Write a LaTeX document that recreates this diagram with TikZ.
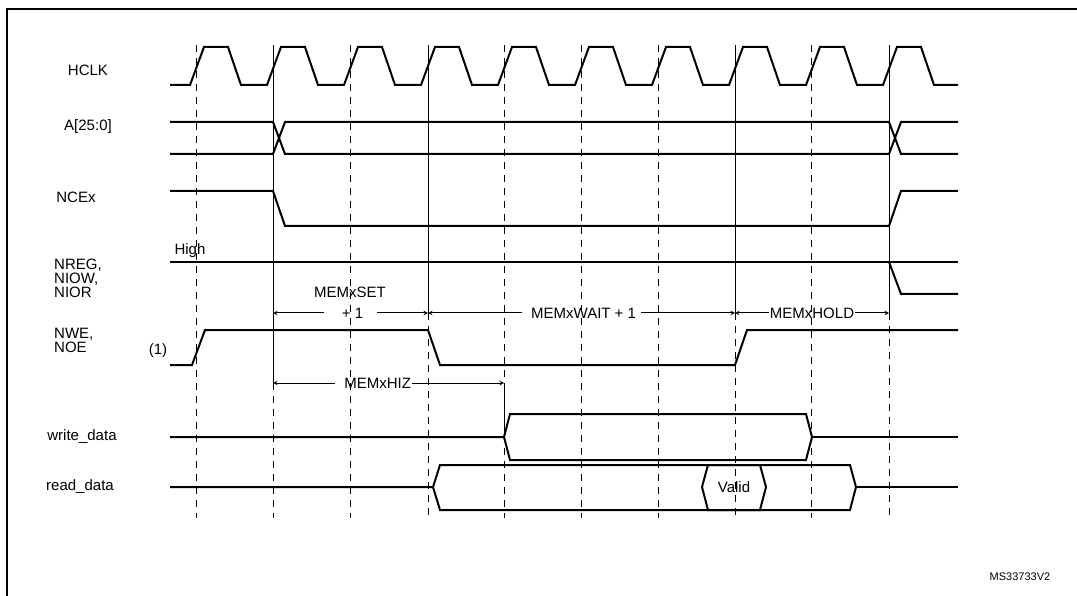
\documentclass[tikz,border=0pt]{standalone}
\usepackage{fontspec}
\setmainfont{Liberation Sans}
\usetikzlibrary{arrows,positioning}
\tikzset
{
    sig/.style      = {line width=2pt, line join=miter},
    tickline/.style = {line width=1pt, dash pattern=on 7pt off 6pt},
    edgeline/.style = {line width=1pt},
    dim/.style      = {line width=1pt, <->, >=stealth},
    signame/.style  = {font=\fontsize{15}{14}\selectfont, align=left, inner sep=0pt},
    dimtext/.style  = {font=\fontsize{15}{15}\selectfont, fill=white, inner sep=1pt}
}
\begin{document}
\begin{tikzpicture}[x=1pt,y=-1pt]
		\useasboundingbox (0,0) rectangle (1077,596);
		% frame
		\draw[line width=1.5pt] (1077,9) -- (7,9) -- (7,596);
		% signal names
		\node (hclk)  [signame] at (88,70)   {HCLK};
		\node (addr)  [signame] at (88,127)  {A[25:0]};
		\node (nce)   [signame] at (76,197)  {NCEx};
		\node (nreg)  [signame, anchor=west] at (54,278) {NREG,\\NIOW,\\NIOR};
		\node (nwe)   [signame, anchor=west] at (54,340) {NWE,\\NOE};
		\node (one)   [signame] at (158,351) {(1)};
		\node (wdata) [signame] at (82,437)  {write\_data};
		\node (rdata) [signame] at (80,487)  {read\_data};
		\node (high)  [signame] at (190,251) {High};
		\node (ref)   [font=\fontsize{11}{11}\selectfont, inner sep=0pt] at (1020,577) {MS33733V2};
		% clock
		\draw[sig] (170,85) foreach \v in {196,273,...,889} { -- (\v-6,85) -- (\v+8,47) -- (\v+32,47) -- (\v+45,85) } -- (958,85);
		% address bus
		\draw[sig] (170,122) -- (273,122) -- (285,154) -- (889,154) -- (901,122) -- (958,122);
		\draw[sig] (170,154) -- (273,154) -- (285,122) -- (889,122) -- (901,154) -- (958,154);
		% chip enable
		\draw[sig] (170,191) -- (273,191) -- (285,226) -- (889,226) -- (901,191) -- (958,191);
		% nreg
		\draw[sig] (170,262) -- (958,262);
		\draw[sig] (889,262) -- (901,294) -- (958,294);
		% nwe
		\draw[sig] (170,365) -- (192,365) -- (205,330) -- (428,330) -- (440,365) -- (735,365) -- (747,330) -- (958,330);
		% write data
		\draw[sig] (170,437) -- (504,437) -- (510,414) -- (806,414) -- (812,437) -- (806,460) -- (510,460) -- (504,437);
		\draw[sig] (812,437) -- (958,437);
		% read data
		\draw[sig] (170,487) -- (433,487) -- (440,465) -- (850,465) -- (856,487) -- (850,510) -- (440,510) -- (433,487);
		\draw[sig] (856,487) -- (958,487);
		\draw[sig] (702,487) -- (708,465) -- (760,465) -- (766,487) -- (760,510) -- (708,510) -- cycle;
		\node (valid) [signame] at (734,487) {Valid};
		% timing marks
		\coordinate (s0) at (273,313);
		\coordinate (s1) at (428,313);
		\coordinate (w1) at (735,313);
		\coordinate (h1) at (889,313);
		\coordinate (z0) at (273,383);
		\coordinate (z1) at (504,383);
		\node (setl) [signame] at (350,292) {MEMxSET};
		\draw[dim] (s0) -- node[dimtext] {\ \ \ \ + 1\ \ \ \ } (s1);
		\draw[dim] (s1) -- node[dimtext] {\ \ MEMxWAIT + 1\ \ } (w1);
		\draw[dim] (w1) -- node[dimtext] {MEMxHOLD} (h1);
		\draw[dim] (z0) -- node[dimtext, xshift=-15pt] {\ \ MEMxHIZ} (z1);
		% grid
		\foreach \v in {196,350,504,581,658,811}
			\draw[tickline] (\v,45) -- (\v,518);
		\draw[edgeline] (273,45) -- (z0);
		\draw[tickline] (z0) -- (273,518);
		\foreach \v in {428,735,889} {
			\draw[edgeline] (\v,45) -- (\v,313);
			\draw[tickline] (\v,313) -- (\v,518);
		}
		\draw[edgeline] (z1) -- (504,437);
\end{tikzpicture}
\end{document}
